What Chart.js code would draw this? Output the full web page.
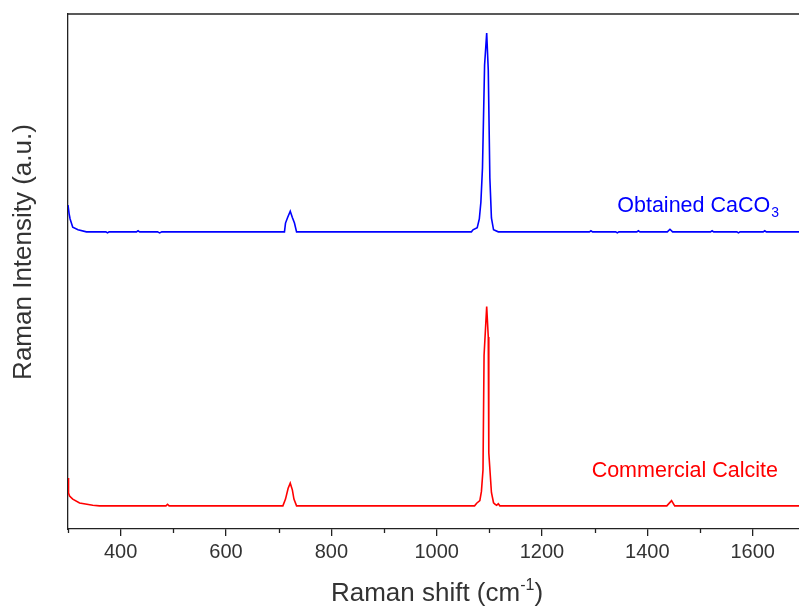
<!DOCTYPE html>
<html>
<head>
<meta charset="utf-8">
<title>Raman spectra</title>
<script src="https://cdn.jsdelivr.net/npm/chart.js@4.4.1/dist/chart.umd.min.js"></script>
<style>
  html, body { margin: 0; padding: 0; background: #fff; }
  #wrap { width: 799px; height: 607px; }
</style>
</head>
<body>
<div id="wrap"><canvas id="chartRaman" width="799" height="607"></canvas></div>
<script>
/* ── Dados ── */
const SHIFT_OBTAINED = [300, 302, 304, 309, 319, 335, 372, 375, 378, 430, 433, 436, 470, 474, 478,
  706, 711, 713, 717, 722, 726, 730, 734, 740,
  1060, 1066, 1069, 1077, 1081, 1084, 1087, 1091, 1095, 1098, 1101, 1104, 1108, 1117,
  1290, 1293, 1296, 1340, 1343, 1346, 1380, 1383, 1386, 1438, 1443, 1448,
  1520, 1523, 1526, 1570, 1573, 1576, 1620, 1623, 1626, 1688];
const INTENSITY_OBTAINED = [62.9, 61.3, 60.2, 58.6, 58.1, 57.7, 57.7, 57.5, 57.7, 57.7, 57.9, 57.7, 57.7, 57.5, 57.7,
  57.7, 57.7, 59.4, 60.5, 61.7, 60.5, 59.4, 57.7, 57.7,
  57.7, 57.7, 58.1, 58.5, 60.2, 63.5, 70.1, 90.1, 96.3, 89.1, 68.2, 60.4, 58.1, 57.7,
  57.7, 57.9, 57.7, 57.7, 57.5, 57.7, 57.7, 57.9, 57.7, 57.7, 58.2, 57.7,
  57.7, 57.9, 57.7, 57.7, 57.5, 57.7, 57.7, 57.9, 57.7, 57.7];

const SHIFT_COMMERCIAL = [300, 301, 303, 309, 322, 347, 360, 486, 489, 492,
  708, 713, 718, 722, 726, 729, 734,
  1072, 1076, 1082, 1085, 1088, 1090, 1095, 1098, 1099, 1104, 1108, 1111, 1114, 1117, 1120,
  1437, 1446, 1452, 1688];
const INTENSITY_COMMERCIAL = [9.9, 7.0, 6.4, 5.8, 5.05, 4.6, 4.5, 4.5, 4.8, 4.5,
  4.5, 5.8, 7.9, 8.9, 7.6, 5.8, 4.5,
  4.5, 5.0, 5.5, 7.3, 11.5, 33.7, 43.2, 37.3, 14.8, 7.1, 5.1, 4.8, 4.6, 4.9, 4.5,
  4.5, 5.5, 4.5, 4.5];

const TICKS_X = [400, 600, 800, 1000, 1200, 1400, 1600];
const MINOR_TICKS_X = [300, 500, 700, 900, 1100, 1300, 1500];

const X_MIN = 300, X_MAX = 1688;
const Y_MIN = 0, Y_MAX = 100;

const BLUE = '#0000ff';
const RED  = '#ff0000';
const AXIS = '#222';
const TEXT = '#333';
const FONT = "'Liberation Sans', Arial, sans-serif";

const pairs = (xs, ys) => xs.map((x, i) => ({ x, y: ys[i] }));

/* ── Textos: títulos dos eixos, rótulos das séries, moldura ── */
const decorPlugin = {
  id: 'decor',
  afterDraw(chart) {
    const { ctx, chartArea: a, scales: { x } } = chart;
    ctx.save();

    // moldura superior
    ctx.strokeStyle = AXIS;
    ctx.lineWidth = 1.3;
    ctx.beginPath();
    ctx.moveTo(a.left, a.top);
    ctx.lineTo(a.right + 2, a.top);
    ctx.stroke();

    // ticks menores
    MINOR_TICKS_X.forEach(v => {
      const px = Math.round(x.getPixelForValue(v)) + 0.5;
      ctx.beginPath();
      ctx.moveTo(px, a.bottom);
      ctx.lineTo(px, a.bottom + 4);
      ctx.stroke();
    });

    // título eixo x com sobrescrito
    ctx.fillStyle = TEXT;
    ctx.textBaseline = 'alphabetic';
    const big = `26px ${FONT}`, small = `16px ${FONT}`;
    const p1 = 'Raman shift (cm', p2 = '-1', p3 = ')';
    ctx.font = big;  const w1 = ctx.measureText(p1).width, w3 = ctx.measureText(p3).width;
    ctx.font = small; const w2 = ctx.measureText(p2).width;
    let tx = 437 - (w1 + w2 + w3) / 2;
    const ty = 601;
    ctx.font = big;   ctx.fillText(p1, tx, ty); tx += w1;
    ctx.font = small; ctx.fillText(p2, tx, ty - 11); tx += w2;
    ctx.font = big;   ctx.fillText(p3, tx, ty);

    // título eixo y
    ctx.save();
    ctx.translate(31, 252);
    ctx.rotate(-Math.PI / 2);
    ctx.font = big;
    ctx.textAlign = 'center';
    ctx.fillText('Raman Intensity (a.u.)', 0, 0);
    ctx.restore();

    // rótulos das séries
    ctx.font = `21.5px ${FONT}`;
    const s1 = 'Obtained CaCO', s2 = '3';
    const ws1 = ctx.measureText(s1).width;
    ctx.font = `14px ${FONT}`;
    const ws2 = ctx.measureText(s2).width;
    const bx = 778 - ws1 - ws2;
    ctx.fillStyle = BLUE;
    ctx.font = `21.5px ${FONT}`; ctx.fillText(s1, bx, 212);
    ctx.font = `14px ${FONT}`; ctx.fillText(s2, bx + ws1 + 1, 217);

    ctx.fillStyle = RED;
    ctx.font = `21.5px ${FONT}`;
    ctx.textAlign = 'right';
    ctx.fillText('Commercial Calcite', 778, 477);

    ctx.restore();
  }
};

new Chart(document.getElementById('chartRaman').getContext('2d'), {
  type: 'line',
  data: {
    datasets: [
      {
        label: 'Obtained CaCO3',
        data: pairs(SHIFT_OBTAINED, INTENSITY_OBTAINED),
        borderColor: BLUE,
        borderWidth: 1.6,
        pointRadius: 0,
        tension: 0,
        fill: false,
      },
      {
        label: 'Commercial Calcite',
        data: pairs(SHIFT_COMMERCIAL, INTENSITY_COMMERCIAL),
        borderColor: RED,
        borderWidth: 1.6,
        pointRadius: 0,
        tension: 0,
        fill: false,
      },
    ],
  },
  options: {
    responsive: false,
    animation: false,
    devicePixelRatio: 1,
    layout: { padding: { top: 14, right: 0, left: 0, bottom: 0 } },
    plugins: { legend: { display: false }, tooltip: { enabled: false } },
    scales: {
      x: {
        type: 'linear',
        min: X_MIN,
        max: X_MAX,
        afterBuildTicks: s => { s.ticks = TICKS_X.map(v => ({ value: v })); },
        afterFit: s => { s.height = 78; },
        grid: { display: true, drawOnChartArea: false, drawTicks: true, tickLength: 7, color: AXIS, lineWidth: 1.3 },
        border: { display: true, color: AXIS, width: 1.3 },
        ticks: {
          color: TEXT, padding: 4, maxRotation: 0, autoSkip: false,
          font: { family: FONT, size: 20 },
          callback: v => String(v),
        },
      },
      y: {
        type: 'linear',
        min: Y_MIN,
        max: Y_MAX,
        afterFit: s => { s.width = 68; },
        grid: { display: false },
        border: { display: true, color: AXIS, width: 1.3 },
        ticks: { display: false },
      },
    },
  },
  plugins: [decorPlugin],
});
</script>
</body>
</html>
